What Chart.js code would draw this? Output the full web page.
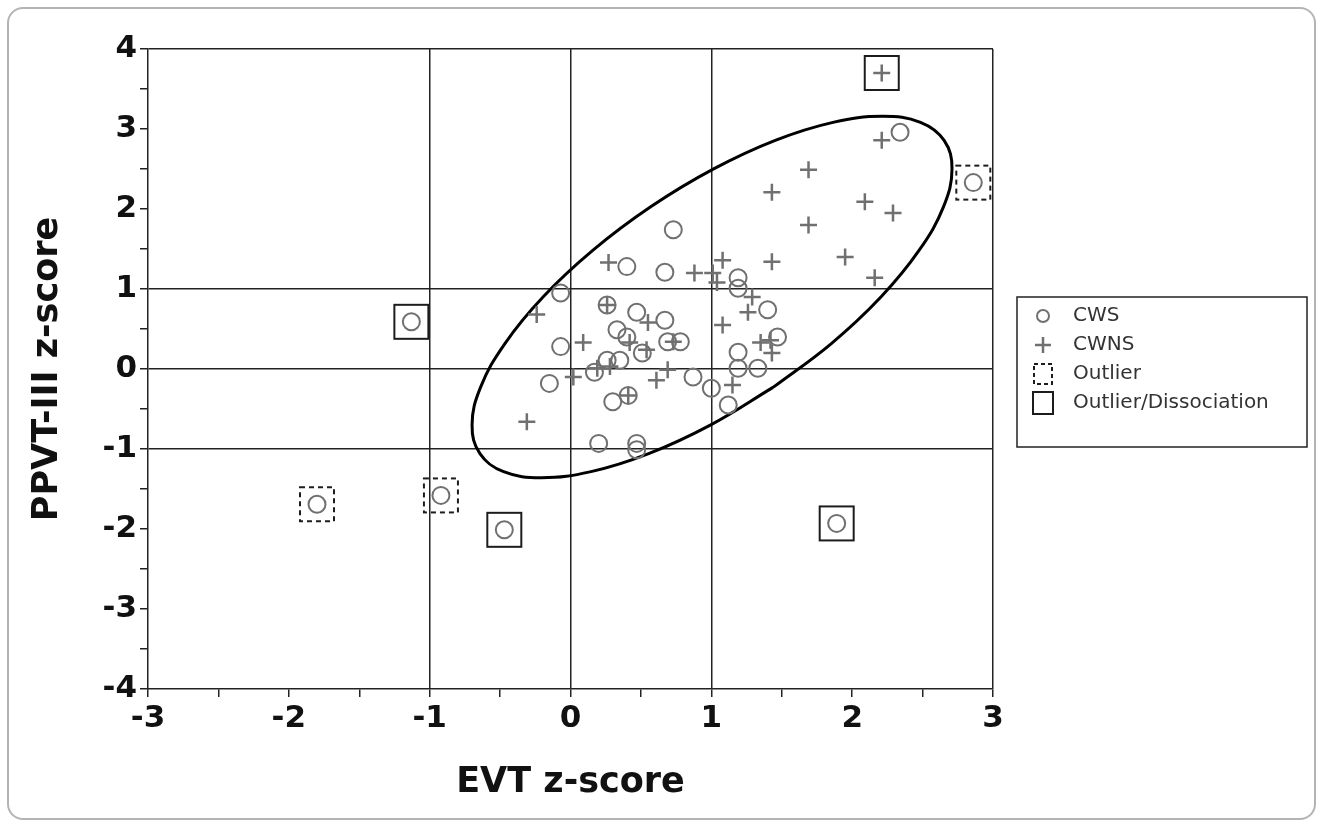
<!DOCTYPE html>
<html><head><meta charset="utf-8">
<script src="https://cdn.jsdelivr.net/npm/chart.js@4.4.1/dist/chart.umd.min.js"></script>
<style>
html,body{margin:0;padding:0;background:#fff;}
#wrap{position:relative;width:1323px;height:827px;}
#frame{position:absolute;left:7px;top:7px;width:1309px;height:813px;border:2px solid #b4b4b4;border-radius:16px;box-sizing:border-box;}
canvas{position:absolute;left:0;top:0;}
</style></head><body>
<div id="wrap"><div id="frame"></div><canvas id="c" width="1323" height="827"></canvas></div>
<script>
// ---- data ----
const xTicks = [-3, -2, -1, 0, 1, 2, 3];
const yTicks = [-4, -3, -2, -1, 0, 1, 2, 3, 4];
const refLinesX = [-1, 0, 1];
const refLinesY = [-1, 0, 1];
const legendLabels = ['CWS', 'CWNS', 'Outlier', 'Outlier/Dissociation'];

const cwsX = [0.40, -0.07, -0.07, -0.15, 0.73, 0.67, 0.26, 0.47, 0.67, 0.33, 0.40, 0.69, 0.78, 0.51, 0.26, 0.35, 0.17, 0.30, 0.41, 0.20, 0.47, 0.47, 1.19, 1.19, 1.40, 1.47, 1.19, 1.19, 1.33, 0.87, 1.00, 1.12, 2.34, -1.13, -1.80, -0.92, -0.47, 1.89, 2.86];
const cwsY = [1.28, 0.95, 0.28, -0.18, 1.74, 1.21, 0.80, 0.71, 0.61, 0.49, 0.40, 0.34, 0.34, 0.20, 0.11, 0.11, -0.04, -0.41, -0.33, -0.93, -0.93, -1.01, 1.14, 1.01, 0.74, 0.40, 0.21, 0.01, 0.01, -0.10, -0.24, -0.45, 2.96, 0.59, -1.69, -1.58, -2.01, -1.93, 2.33];

const cwnsX = [0.27, -0.24, 0.09, 0.02, -0.31, 0.26, 0.19, 0.28, 0.55, 0.42, 0.73, 0.54, 0.69, 0.61, 0.41, 0.88, 1.08, 1.01, 1.04, 1.43, 1.29, 1.26, 1.08, 1.42, 1.35, 1.43, 1.15, 2.21, 1.43, 1.69, 1.69, 2.09, 2.29, 1.95, 2.16, 2.21];
const cwnsY = [1.33, 0.68, 0.33, -0.10, -0.66, 0.80, 0.01, 0.03, 0.58, 0.33, 0.34, 0.24, -0.01, -0.14, -0.33, 1.20, 1.36, 1.20, 1.08, 1.34, 0.90, 0.71, 0.55, 0.36, 0.33, 0.20, -0.20, 2.86, 2.21, 2.49, 1.80, 2.09, 1.95, 1.40, 1.14, 3.70];

const outlierX = [-1.80, -0.92, 2.86];
const outlierY = [-1.69, -1.58, 2.33];
const dissocX = [-1.13, -0.47, 1.89, 2.21];
const dissocY = [0.59, -2.01, -1.93, 3.70];

// outline of the drawn ellipse
const ellipseX = [1.438, 0.996, 0.555, 0.146, -0.206, -0.475, -0.643, -0.699, -0.639, -0.467, -0.195, 0.160, 0.572, 1.013, 1.454, 1.864, 2.215, 2.485, 2.653, 2.709, 2.649, 2.476, 2.204, 1.850, 1.438];
const ellipseY = [-0.230, -0.698, -1.058, -1.283, -1.360, -1.284, -1.058, -0.699, -0.230, 0.315, 0.900, 1.485, 2.030, 2.498, 2.858, 3.083, 3.160, 3.084, 2.858, 2.499, 2.030, 1.485, 0.900, 0.315, -0.230];

// ---- helpers ----
const pts = (xs, ys) => xs.map((x, i) => ({ x: x, y: ys[i] }));
function markerCanvas(w, h, draw) {
  const c = document.createElement('canvas');
  c.width = w; c.height = h;
  draw(c.getContext('2d'), w, h);
  return c;
}
const MARK = '#707070';
const boxSolid = markerCanvas(38, 38, (g, w, h) => { g.strokeStyle = '#1c1c1c'; g.lineWidth = 2; g.strokeRect(2, 2, w - 4, h - 4); });
const boxDashed = markerCanvas(38, 38, (g, w, h) => { g.strokeStyle = '#1c1c1c'; g.lineWidth = 2; g.setLineDash([5, 4]); g.strokeRect(2, 2, w - 4, h - 4); });
const icCircle = markerCanvas(18, 18, g => { g.strokeStyle = MARK; g.lineWidth = 2; g.beginPath(); g.arc(9, 9, 6, 0, Math.PI * 2); g.stroke(); });
const icPlus = markerCanvas(18, 18, g => { g.strokeStyle = MARK; g.lineWidth = 2.5; g.beginPath(); g.moveTo(1, 9); g.lineTo(17, 9); g.moveTo(9, 1); g.lineTo(9, 17); g.stroke(); });
const icDashed = markerCanvas(22, 24, (g, w, h) => { g.strokeStyle = '#1c1c1c'; g.lineWidth = 2; g.setLineDash([4, 3]); g.strokeRect(2, 2, w - 4, h - 4); });
const icSolid = markerCanvas(24, 26, (g, w, h) => { g.strokeStyle = '#1c1c1c'; g.lineWidth = 2; g.strokeRect(2, 2, w - 4, h - 4); });
const legendIcons = [icCircle, icPlus, icDashed, icSolid];

const LEGEND_W = 330, LEGEND_SHIFT_X = 21, LEGEND_SHIFT_Y = -9.5;
const legendTweak = {
  id: 'legendTweak',
  afterInit(chart) {
    const lg = chart.legend;
    if (!lg || lg._tw) return;
    const fit = lg.fit.bind(lg);
    lg.fit = function () { fit(); this.width = LEGEND_W; };
    lg._tw = true;
  },
  afterLayout(chart) {
    const lg = chart.legend;
    lg.left += LEGEND_SHIFT_X; lg.right += LEGEND_SHIFT_X;
    lg.top += LEGEND_SHIFT_Y; lg.bottom += LEGEND_SHIFT_Y;
  },
  afterDraw(chart) {
    const lg = chart.legend;
    if (!lg) return;
    const pad = lg.options.labels.padding;
    const colH = (lg.columnSizes && lg.columnSizes[0]) ? lg.columnSizes[0].height : 116;
    const y0 = (lg.top + pad + lg.bottom - colH) / 2;
    const ctx = chart.ctx;
    ctx.save();
    ctx.strokeStyle = '#222'; ctx.lineWidth = 1.5;
    ctx.strokeRect(lg.left + 3, y0 - 9, 290, 150);
    ctx.restore();
  }
};

Chart.defaults.font.family = "'DejaVu Sans', sans-serif";
const LINE = '#222';
const tickFont = { family: "'DejaVu Sans', sans-serif", size: 31, weight: 'bold' };
const titleFont = { family: "'DejaVu Sans', sans-serif", size: 35, weight: 'bold' };

new Chart(document.getElementById('c'), {
  type: 'scatter',
  data: {
    datasets: [
      { label: legendLabels[0], data: pts(cwsX, cwsY), pointStyle: 'circle', pointRadius: 8.5, borderColor: MARK, backgroundColor: 'rgba(0,0,0,0)', borderWidth: 2 },
      { label: legendLabels[1], data: pts(cwnsX, cwnsY), pointStyle: 'cross', pointRadius: 8.5, borderColor: MARK, backgroundColor: MARK, borderWidth: 2.5 },
      { label: legendLabels[2], data: pts(outlierX, outlierY), pointStyle: boxDashed, pointRadius: 17, borderColor: '#1c1c1c' },
      { label: legendLabels[3], data: pts(dissocX, dissocY), pointStyle: boxSolid, pointRadius: 17, borderColor: '#1c1c1c' },
      { label: 'ellipse', data: pts(ellipseX, ellipseY), showLine: true, pointRadius: 0, borderColor: '#000', borderWidth: 3, tension: 0.4, fill: false }
    ]
  },
  options: {
    responsive: false,
    animation: false,
    devicePixelRatio: 1,
    events: [],
    layout: { padding: { left: 15, top: 49, right: 0, bottom: 20 } },
    plugins: {
      tooltip: { enabled: false },
      legend: {
        position: 'right',
        fullSize: false,
        align: 'center',
        labels: {
          usePointStyle: true,
          pointStyleWidth: 40,
          boxWidth: 40,
          padding: 9,
          color: '#333',
          font: { family: "'DejaVu Sans', sans-serif", size: 20 },
          generateLabels: () => legendLabels.map((t, i) => ({
            text: t, pointStyle: legendIcons[i], fillStyle: 'rgba(0,0,0,0)', strokeStyle: 'rgba(0,0,0,0)',
            lineWidth: 0, hidden: false, datasetIndex: i, fontColor: '#333'
          }))
        }
      }
    },
    scales: {
      x: {
        type: 'linear', min: -3, max: 3,
        afterFit: s => { s.height = 118; },
        ticks: { stepSize: 0.5, autoSkip: false, maxRotation: 0, color: '#111', font: tickFont, padding: 3,
          callback: v => xTicks.includes(v) ? String(v) : '' },
        grid: {
          color: c => (c.tick && (refLinesX.includes(c.tick.value) || c.tick.value === 3)) ? LINE : 'rgba(0,0,0,0)',
          tickColor: LINE, lineWidth: 1.5, tickWidth: 1.5, tickLength: 8
        },
        border: { color: LINE, width: 1.5 },
        title: { display: true, text: 'EVT z-score', color: '#111', font: titleFont, padding: { top: 0, bottom: 3 } }
      },
      y: {
        type: 'linear', min: -4, max: 4,
        afterFit: s => { s.width = 133; },
        ticks: { stepSize: 0.5, autoSkip: false, color: '#111', font: tickFont, padding: 3,
          callback: v => yTicks.includes(v) ? String(v) : '' },
        grid: {
          color: c => (c.tick && (refLinesY.includes(c.tick.value) || c.tick.value === 4)) ? LINE : 'rgba(0,0,0,0)',
          tickColor: LINE, lineWidth: 1.5, tickWidth: 1.5, tickLength: 8
        },
        border: { color: LINE, width: 1.5 },
        title: { display: true, text: 'PPVT-III z-score', color: '#111', font: titleFont, padding: { top: 12, bottom: 0 } }
      }
    }
  },
  plugins: [legendTweak]
});
</script></body></html>
